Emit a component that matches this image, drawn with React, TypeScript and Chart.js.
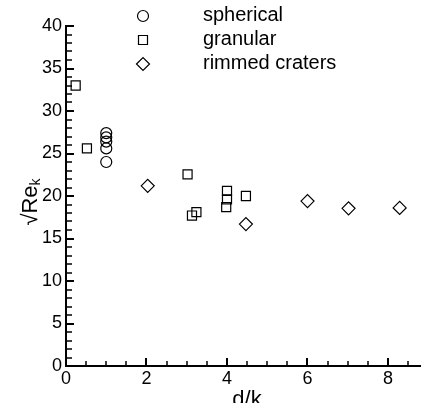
import React, { useEffect, useRef } from "react";
import { Chart, registerables } from "chart.js";

Chart.register(...registerables);

const sphericalX = [1, 1, 1, 1, 1];
const sphericalY = [27.4, 26.9, 26.4, 25.6, 24.0];
const granularX = [0.24, 0.52, 3.02, 3.13, 3.24, 4.0, 4.0, 3.98, 4.47];
const granularY = [33.0, 25.6, 22.55, 17.7, 18.1, 20.6, 19.6, 18.7, 20.0];
const rimmedX = [2.03, 4.47, 6.0, 7.02, 8.29];
const rimmedY = [21.2, 16.7, 19.4, 18.55, 18.6];
const seriesNames = ["spherical", "granular", "rimmed craters"];
const xMajorTicks = [0, 2, 4, 6, 8];
const yMajorTicks = [0, 5, 10, 15, 20, 25, 30, 35, 40];
const xTitle = "d/k";
const yTitleMain = "\u221ARe";
const yTitleSub = "k";

const FONT = "'Liberation Sans', Arial, Helvetica, sans-serif";

const toPts = (xs: number[], ys: number[]) => xs.map((x, i) => ({ x, y: ys[i] }));

function drawMarker(ctx: CanvasRenderingContext2D, style: string, x: number, y: number) {
  ctx.beginPath();
  if (style === "circle") {
    ctx.arc(x, y, 5.5, 0, Math.PI * 2);
  } else if (style === "rect") {
    ctx.rect(x - 4.5, y - 4.5, 9, 9);
  } else {
    ctx.moveTo(x - 6.5, y);
    ctx.lineTo(x, y - 6.5);
    ctx.lineTo(x + 6.5, y);
    ctx.lineTo(x, y + 6.5);
    ctx.closePath();
  }
  ctx.stroke();
}

const decorPlugin = {
  id: "decor",
  afterDraw(chart: any) {
    const ctx: CanvasRenderingContext2D = chart.ctx;
    const xs = chart.scales.x;
    const ys = chart.scales.y;
    const area = chart.chartArea;
    ctx.save();
    ctx.strokeStyle = "#000";
    const xMax = xs.max;
    for (let v = 0; v <= xMax + 1e-9; v += 0.5) {
      const major = Math.abs(v / 2 - Math.round(v / 2)) < 1e-6;
      const px = Math.round(xs.getPixelForValue(v));
      ctx.lineWidth = major ? 2 : 1.5;
      ctx.beginPath();
      ctx.moveTo(px, area.bottom);
      ctx.lineTo(px, area.bottom - (major ? 8 : 5));
      ctx.stroke();
    }
    for (let v = 0; v <= 40; v += 1) {
      const major = v % 5 === 0;
      const py = Math.round(ys.getPixelForValue(v));
      ctx.lineWidth = major ? 2 : 1.5;
      ctx.beginPath();
      ctx.moveTo(area.left, py);
      ctx.lineTo(area.left + (major ? 8 : 6), py);
      ctx.stroke();
    }
    const styles = ["circle", "rect", "rectRot"];
    ctx.lineWidth = 1.2;
    ctx.fillStyle = "#000";
    ctx.font = `20px ${FONT}`;
    ctx.textBaseline = "alphabetic";
    ctx.textAlign = "left";
    seriesNames.forEach((name, i) => {
      const y = 16 + i * 24;
      drawMarker(ctx, styles[i], 143, y);
      ctx.fillText(name, 203, y + 5);
    });
    ctx.font = `22px ${FONT}`;
    ctx.textAlign = "center";
    ctx.fillText(xTitle, 247, 406);
    ctx.translate(37, 202);
    ctx.rotate(-Math.PI / 2);
    ctx.font = `22px ${FONT}`;
    const wMain = ctx.measureText(yTitleMain).width;
    ctx.font = `14px ${FONT}`;
    const wSub = ctx.measureText(yTitleSub).width;
    const start = -(wMain + wSub) / 2;
    ctx.textAlign = "left";
    ctx.font = `22px ${FONT}`;
    ctx.fillText(yTitleMain, start, 0);
    ctx.font = `14px ${FONT}`;
    ctx.fillText(yTitleSub, start + wMain, 3);
    ctx.restore();
  },
};

export default function App() {
  const ref = useRef<HTMLCanvasElement>(null);
  useEffect(() => {
    if (!ref.current) return;
    const common = {
      showLine: false,
      borderColor: "#000",
      backgroundColor: "rgba(0,0,0,0)",
      pointBorderWidth: 1.2,
    };
    const chart = new Chart(ref.current, {
      type: "scatter",
      data: {
        datasets: [
          { ...common, label: seriesNames[0], data: toPts(sphericalX, sphericalY), pointStyle: "circle", pointRadius: 5.5 },
          { ...common, label: seriesNames[1], data: toPts(granularX, granularY), pointStyle: "rect", pointRadius: 6.4 },
          { ...common, label: seriesNames[2], data: toPts(rimmedX, rimmedY), pointStyle: "rectRot", pointRadius: 6.5 },
        ],
      },
      options: {
        responsive: false,
        animation: false,
        layout: { autoPadding: false, padding: { top: 26, right: 0, left: 0, bottom: 0 } },
        plugins: { legend: { display: false }, tooltip: { enabled: false } },
        scales: {
          x: {
            type: "linear",
            min: 0,
            max: 8.82,
            grid: { display: false, drawTicks: false, tickLength: 0 },
            border: { display: true, color: "#000", width: 2 },
            afterBuildTicks: (s: any) => {
              s.ticks = xMajorTicks.map((v) => ({ value: v }));
            },
            afterFit: (s: any) => {
              s.height = 37;
              s.paddingLeft = 0;
              s.paddingRight = 0;
            },
            ticks: {
              autoSkip: false,
              maxRotation: 0,
              padding: 2,
              color: "#000",
              font: { family: FONT, size: 18 },
            },
          },
          y: {
            type: "linear",
            min: 0,
            max: 40,
            grid: { display: false, drawTicks: false, tickLength: 0 },
            border: { display: true, color: "#000", width: 2 },
            afterBuildTicks: (s: any) => {
              s.ticks = yMajorTicks.map((v) => ({ value: v }));
            },
            afterFit: (s: any) => {
              s.width = 66;
            },
            ticks: {
              autoSkip: false,
              padding: 4,
              color: "#000",
              font: { family: FONT, size: 18 },
            },
          },
        },
      },
      plugins: [decorPlugin],
    } as any);
    return () => chart.destroy();
  }, []);
  return (
    <div style={{ position: "fixed", left: 0, top: 0, width: 421, height: 403, background: "#fff" }}>
      <canvas ref={ref} width={421} height={403} style={{ width: 421, height: 403 }} />
    </div>
  );
}
